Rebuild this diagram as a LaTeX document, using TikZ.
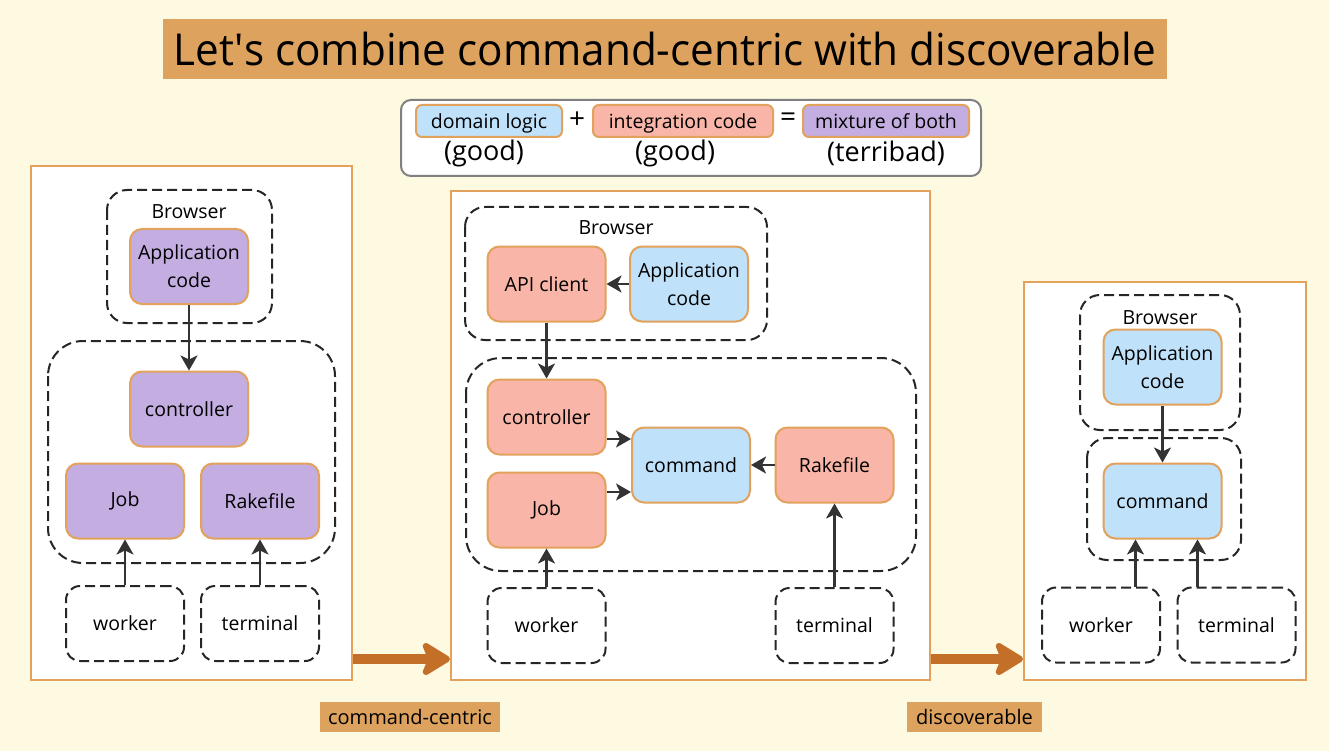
\documentclass[tikz,border=0pt]{standalone}
\usepackage{fontspec}
\setmainfont{Open Sans}
\newfontfamily\titlefont[FakeStretch=0.96]{Open Sans}
\usetikzlibrary{arrows.meta}

\definecolor{paper}{HTML}{FEF9E1}
\definecolor{banner}{HTML}{DDA25E}
\definecolor{rim}{HTML}{E2A25C}
\definecolor{domain}{HTML}{BFE1FA}
\definecolor{integ}{HTML}{F9B5A7}
\definecolor{mixed}{HTML}{C3ADE1}
\definecolor{ink}{HTML}{333333}
\definecolor{shift}{HTML}{C46F28}

\tikzset{
  panel/.style={draw=rim, line width=2pt, fill=white},
  block/.style={draw=rim, line width=2pt, rounded corners=12pt, minimum width=118pt,
    minimum height=75pt, align=center, inner sep=0pt, font=\fontsize{19.5}{28}\selectfont},
  zone/.style={draw=black!85, line width=2pt, dash pattern=on 10pt off 5pt, rounded corners=20pt},
  source/.style={zone, rounded corners=14pt, minimum width=118pt, minimum height=75pt,
    inner sep=0pt, font=\fontsize{19.5}{28}\selectfont},
  caption/.style={inner sep=0pt, font=\fontsize{19.5}{28}\selectfont},
  tag/.style={draw=rim, line width=2pt, rounded corners=6pt, minimum height=32pt,
    inner sep=0pt, text height=17pt, text depth=2pt, font=\fontsize{19.5}{24}\selectfont},
  flow/.style={draw=ink, line width=2.4pt, -{Stealth[length=15pt,width=17pt,inset=4pt]}},
  bigarrow/.style={draw=shift, line width=10pt, -{Stealth[length=33pt,width=40pt,inset=8pt,round]}},
  stage/.style={fill=banner, minimum height=30pt, inner sep=3pt, font=\fontsize{20}{24}\selectfont}
}

\begin{document}
\begin{tikzpicture}[x=1pt, y=-1pt]
  \useasboundingbox (0,0) rectangle (1329,751);
  \fill[paper] (0,0) rectangle (1329,751);

  % title and legend
  \node[fill=banner, minimum width=1004pt, minimum height=60pt, inner sep=0pt,
    font=\titlefont\fontsize{44}{50}\selectfont] (title) at (665,49)
    {Let\textquotesingle s combine command-centric with discoverable};
  \node[draw=black!50, line width=2pt, rounded corners=10pt, fill=white,
    minimum width=580pt, minimum height=76pt] (legend) at (691,138) {};
  \node[tag, fill=domain, minimum width=146pt] (ldomain) at (489,121) {domain logic};
  \node[font=\fontsize{28}{30}\selectfont] (lplus) at (577,120) {+};
  \node[tag, fill=integ, minimum width=180pt] (linteg) at (683,121) {integration code};
  \node[font=\fontsize{28}{30}\selectfont] (leq) at (788,120) {=};
  \node[tag, fill=mixed, minimum width=166pt] (lmixed) at (886,121) {mixture of both};
  \node[font=\fontsize{27}{30}\selectfont, inner sep=0pt] (g1) at (484,153) {(good)};
  \node[font=\fontsize{27}{30}\selectfont, inner sep=0pt] (g2) at (675,153) {(good)};
  \node[font=\fontsize{27}{30}\selectfont, inner sep=0pt] (g3) at (886,153) {(terribad)};

  % panels
  \node[panel, minimum width=321pt, minimum height=514pt] (p1) at (191.5,423) {};
  \node[panel, minimum width=479pt, minimum height=489pt] (p2) at (690.5,435.5) {};
  \node[panel, minimum width=282pt, minimum height=398pt] (p3) at (1165,481) {};

  % first panel: everything mixed
  \draw[zone] (107,190) rectangle (272,323);
  \draw[zone, rounded corners=35pt] (48,341) rectangle (335,563);
  \node[caption] (br1) at (189,212) {Browser};
  \node[block, fill=mixed] (app1) at (189,266.5) {Application\\code};
  \node[block, fill=mixed] (ctl1) at (189,409) {controller};
  \node[block, fill=mixed] (job1) at (125,501) {Job};
  \node[block, fill=mixed] (rake1) at (260,501) {Rakefile};
  \node[source] (wrk1) at (125,623.5) {worker};
  \node[source] (term1) at (260,623.5) {terminal};
  \draw[flow] (app1) -- (ctl1);
  \draw[flow] (wrk1) -- (job1);
  \draw[flow] (term1) -- (rake1);

  % second panel: command-centric
  \draw[zone] (465,207) rectangle (767,340);
  \draw[zone, rounded corners=35pt] (466,358) rectangle (916,571);
  \node[caption] (br2) at (616,228) {Browser};
  \node[block, fill=integ] (api2) at (546.5,284) {API client};
  \node[block, fill=domain] (app2) at (689,284) {Application\\code};
  \node[block, fill=integ] (ctl2) at (546.5,417) {controller};
  \node[block, fill=integ] (job2) at (546.5,510) {Job};
  \node[block, fill=domain] (cmd2) at (691,465) {command};
  \node[block, fill=integ] (rake2) at (834.5,465) {Rakefile};
  \node[source] (wrk2) at (546.5,625.5) {worker};
  \node[source] (term2) at (834.5,625.5) {terminal};
  \draw[flow] (app2) -- (api2);
  \draw[flow] (api2) -- (ctl2);
  \draw[flow] ([yshift=-22pt]ctl2.east) -- ([yshift=-22pt]ctl2.east -| cmd2.west);
  \draw[flow] ([yshift=18pt]job2.east) -- ([yshift=18pt]job2.east -| cmd2.west);
  \draw[flow] (rake2) -- (cmd2);
  \draw[flow] (wrk2) -- (job2);
  \draw[flow] (term2) -- (rake2);

  % third panel: discoverable
  \draw[zone] (1080,295) rectangle (1240,430);
  \draw[zone] (1087,438) rectangle (1241,560);
  \node[caption] (br3) at (1160,318) {Browser};
  \node[block, fill=domain] (app3) at (1162.5,367) {Application\\code};
  \node[block, fill=domain] (cmd3) at (1162.5,501) {command};
  \node[source] (wrk3) at (1101,625) {worker};
  \node[source] (term3) at (1236.5,625) {terminal};
  \draw[flow] (app3) -- (cmd3);
  \draw[flow] ([xshift=-27pt]cmd3.south |- wrk3.north) -- ([xshift=-27pt]cmd3.south);
  \draw[flow] ([xshift=35pt]cmd3.south |- term3.north) -- ([xshift=35pt]cmd3.south);

  % steps between panels
  \draw[bigarrow] ([yshift=22pt]p1.south east) -- ([yshift=22pt]p2.south west);
  \draw[bigarrow] ([yshift=22pt]p2.south east) -- ([yshift=22pt]p3.south west);
  \node[stage, minimum width=180pt] (cc) at (410,717) {command-centric};
  \node[stage, minimum width=135pt] (disc) at (974.5,717) {discoverable};
\end{tikzpicture}
\end{document}
